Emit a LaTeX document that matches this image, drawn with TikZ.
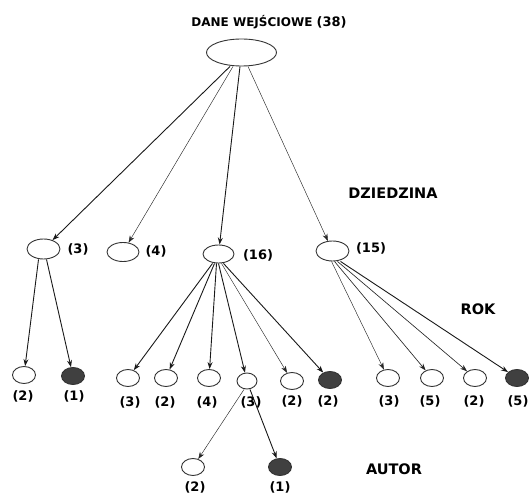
\documentclass[tikz,border=0pt]{standalone}
\usepackage{fontspec}
\setmainfont{DejaVu Sans}
\usetikzlibrary{arrows.meta,shapes.geometric}

\begin{document}
\begin{tikzpicture}[x=1pt, y=-1pt, >={Stealth[length=7pt,width=5pt]},
  leaf/.style={draw=black!80, ellipse, line width=0.9pt, inner sep=0pt, minimum width=23pt, minimum height=17pt},
  dark/.style={leaf, fill=black!75},
  mid/.style={leaf, minimum width=32pt, minimum height=19pt},
  num/.style={font=\fontsize{13}{15}\selectfont\bfseries, inner sep=0pt},
  lev/.style={font=\fontsize{14.5}{17}\selectfont\bfseries, inner sep=0pt},
  thk/.style={->, line width=0.9pt, black!90},
  thn/.style={->, line width=0.45pt, black!85}]
\useasboundingbox (0,0) rectangle (530,494);
% root
\node[font=\fontsize{12}{14}\selectfont\bfseries, inner sep=0pt] (title) at (269,22) {DANE WEJŚCIOWE {\fontsize{13}{15}\selectfont(38)}};
\node[leaf, minimum width=70pt, minimum height=27pt] (root) at (241.5,52.5) {};
% DZIEDZINA
\node[lev] (dziedzina) at (393,193) {DZIEDZINA};
\node[mid, minimum width=33pt, minimum height=20pt] (A) at (43.5,249) {};
\node[mid] (B) at (123,252) {};
\node[mid, minimum width=31pt, minimum height=18pt] (C) at (218.5,254) {};
\node[mid, minimum width=33pt, minimum height=20pt] (D) at (332.5,251) {};
\node[num] (nA) at (78,249) {(3)};
\node[num] (nB) at (156,251) {(4)};
\node[num] (nC) at (258,255) {(16)};
\node[num] (nD) at (371,248) {(15)};
% ROK
\node[lev] (rok) at (478,309) {ROK};
\node[leaf] (a1) at (24,375) {};
\node[dark] (a2) at (73,376) {};
\node[leaf] (c1) at (128,378) {};
\node[leaf] (c2) at (166,378) {};
\node[leaf] (c3) at (209,378) {};
\node[leaf, minimum width=20pt, minimum height=16pt] (c4) at (247,381) {};
\node[leaf] (c5) at (292,381) {};
\node[dark] (c6) at (330,380) {};
\node[leaf] (d1) at (388,378) {};
\node[leaf] (d2) at (432,378) {};
\node[leaf] (d3) at (475,378) {};
\node[dark] (d4) at (517,378) {};
\node[num] (na1) at (23,396) {(2)};
\node[num] (na2) at (74,396) {(1)};
\node[num] (nc1) at (130,402) {(3)};
\node[num] (nc2) at (165,402) {(2)};
\node[num] (nc3) at (207,402) {(4)};
\node[num] (nc4) at (251,402) {(3)};
\node[num] (nc5) at (292,401) {(2)};
\node[num] (nc6) at (328,401) {(2)};
\node[num] (nd1) at (389,401) {(3)};
\node[num] (nd2) at (430,401) {(5)};
\node[num] (nd3) at (474,401) {(2)};
\node[num] (nd4) at (518,401) {(5)};
% AUTOR
\node[lev] (autor) at (394,469) {AUTOR};
\node[leaf] (e1) at (193,467) {};
\node[dark] (e2) at (280,467) {};
\node[num] (ne1) at (195,487) {(2)};
\node[num] (ne2) at (280,487) {(1)};
% edges
\draw[thk] ([xshift=-11.5pt]root.south) -- (A);
\draw[thn] ([xshift=-8.5pt]root.south) -- (B);
\draw[thk] ([xshift=-1.5pt]root.south) -- (C);
\draw[thn] ([xshift=6.5pt]root.south) -- (D);
\draw[thk] ([xshift=-5pt]A.south) -- (a1);
\draw[thk] ([xshift=3pt]A.south) -- (a2);
\draw[thk] ([xshift=-6pt]C.south) -- (c1);
\draw[thk] ([xshift=-4pt]C.south) -- (c2);
\draw[thk] ([xshift=-2pt]C.south) -- (c3);
\draw[thk] ([xshift=0pt]C.south) -- (c4);
\draw[thn] ([xshift=3pt]C.south) -- (c5);
\draw[thk] ([xshift=5pt]C.south) -- (c6);
\draw[thn] ([xshift=-1pt]D.south) -- (d1);
\draw[thn, line width=0.65pt] ([xshift=2pt]D.south) -- (d2);
\draw[thn, line width=0.65pt] ([xshift=5pt]D.south) -- (d3);
\draw[thk] ([xshift=8pt]D.south) -- (d4);
\draw[thn] ([xshift=-3pt]c4.south) -- (e1);
\draw[thk] ([xshift=3pt]c4.south) -- (e2);
\end{tikzpicture}
\end{document}
